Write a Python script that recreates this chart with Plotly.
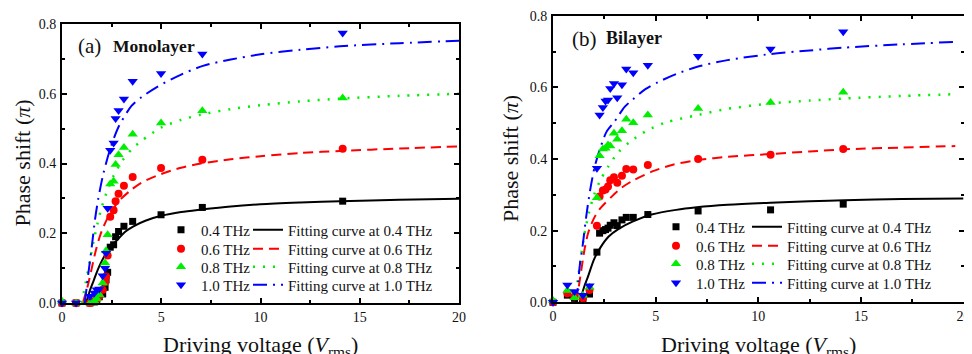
import plotly.graph_objects as go

W, H = 972, 354          # browser window
OFF = 8                  # default body margin of the page
FW, FH = W - OFF, H - OFF
FONT = "Liberation Serif, Times New Roman, serif"

# ---------------- Monolayer (a) ----------------
mono_v = [0.0, 0.71, 1.41, 1.63, 1.75, 1.88, 2.05, 2.17, 2.22, 2.30, 2.43, 2.60, 2.70, 2.85, 3.12, 3.56, 4.99, 7.07, 14.14]
mono_04 = [0.0, 0.0, 0.0, 0.003, 0.01, 0.018, 0.026, 0.045, 0.066, 0.088, 0.16, 0.167, 0.19, 0.205, 0.22, 0.234, 0.253, 0.274, 0.292]
mono_06 = [0.0, 0.0, 0.0, 0.005, 0.01, 0.02, 0.038, 0.06, 0.076, 0.136, 0.247, 0.266, 0.292, 0.313, 0.336, 0.361, 0.387, 0.411, 0.442]
mono_08 = [0.005, 0.0, 0.0, 0.005, 0.012, 0.024, 0.057, 0.115, 0.15, 0.196, 0.341, 0.349, 0.397, 0.425, 0.446, 0.484, 0.516, 0.551, 0.588]
mono_10 = [0.0, 0.0, 0.019, 0.029, 0.038, 0.04, 0.078, 0.1, 0.143, 0.272, 0.438, 0.459, 0.529, 0.552, 0.585, 0.636, 0.658, 0.714, 0.774]

fit_mono_04_v = [1.22, 1.4, 1.6, 1.8, 2.0, 2.2, 2.5, 2.8, 3.2, 3.6, 4.2, 5.0, 6.0, 7.0, 8.5, 10, 12, 14, 17, 20]
fit_mono_04 = [0.0, 0.035, 0.065, 0.095, 0.12, 0.14, 0.163, 0.182, 0.205, 0.22, 0.236, 0.25, 0.261, 0.268, 0.277, 0.283, 0.288, 0.292, 0.296, 0.299]
fit_mono_06_v = [1.05, 1.3, 1.5, 1.7, 1.9, 2.1, 2.4, 2.7, 3.0, 3.5, 4.0, 5.0, 6.0, 7.0, 8.5, 10, 12, 14, 17, 20]
fit_mono_06 = [0.0, 0.05, 0.1, 0.15, 0.19, 0.22, 0.255, 0.28, 0.3, 0.325, 0.345, 0.37, 0.388, 0.4, 0.412, 0.421, 0.43, 0.436, 0.443, 0.449]
fit_mono_08_v = [1.0, 1.2, 1.4, 1.6, 1.8, 2.0, 2.3, 2.6, 3.0, 3.5, 4.0, 5.0, 6.0, 7.0, 8.5, 10, 12, 14, 17, 20]
fit_mono_08 = [0.0, 0.06, 0.12, 0.18, 0.23, 0.275, 0.325, 0.365, 0.405, 0.44, 0.465, 0.503, 0.525, 0.54, 0.556, 0.567, 0.578, 0.586, 0.594, 0.6]
fit_mono_10_v = [1.15, 1.33, 1.5, 1.66, 1.83, 2.08, 2.42, 2.84, 3.5, 4.0, 4.8, 6.0, 7.1, 8.5, 10, 12, 14, 17, 20]
fit_mono_10 = [0.0, 0.086, 0.161, 0.238, 0.3, 0.37, 0.44, 0.504, 0.565, 0.59, 0.62, 0.655, 0.68, 0.698, 0.713, 0.726, 0.736, 0.745, 0.752]

# ---------------- Bilayer (b) ----------------
bi_v = [0.0, 0.70, 1.05, 1.46, 1.78, 2.14, 2.27, 2.43, 2.56, 2.68, 2.79, 2.97, 3.13, 3.36, 3.57, 3.91, 4.62, 7.07, 10.6, 14.14]
bi_04 = [0.0, 0.02, 0.011, 0.008, 0.023, 0.14, 0.193, 0.2, 0.203, 0.207, 0.215, 0.222, 0.214, 0.23, 0.237, 0.237, 0.245, 0.255, 0.258, 0.274]
bi_06 = [0.0, 0.025, 0.016, 0.011, 0.034, 0.214, 0.295, 0.312, 0.315, 0.323, 0.341, 0.349, 0.334, 0.353, 0.372, 0.371, 0.383, 0.4, 0.412, 0.428]
bi_08 = [0.005, 0.033, 0.013, 0.02, 0.042, 0.292, 0.409, 0.428, 0.43, 0.439, 0.436, 0.472, 0.455, 0.479, 0.511, 0.501, 0.523, 0.541, 0.558, 0.586]
bi_10 = [0.0, 0.048, 0.03, 0.02, 0.046, 0.374, 0.523, 0.544, 0.562, 0.565, 0.597, 0.611, 0.571, 0.607, 0.651, 0.641, 0.662, 0.687, 0.707, 0.755]

fit_bi_04_v = [1.3, 1.5, 1.7, 2.0, 2.3, 2.7, 3.2, 3.9, 4.8, 6.0, 7.0, 8.5, 10.6, 12.5, 14.2, 17, 20]
fit_bi_04 = [0.0, 0.04, 0.071, 0.12, 0.152, 0.183, 0.205, 0.226, 0.245, 0.258, 0.265, 0.272, 0.278, 0.282, 0.285, 0.288, 0.29]
fit_bi_06_v = [1.14, 1.3, 1.56, 1.72, 2.0, 2.3, 2.86, 3.35, 3.9, 4.87, 5.84, 7.07, 8.5, 10.6, 12.5, 14.2, 17, 19.6]
fit_bi_06 = [0.0, 0.06, 0.155, 0.195, 0.235, 0.262, 0.295, 0.32, 0.34, 0.366, 0.384, 0.397, 0.406, 0.414, 0.421, 0.427, 0.432, 0.436]
fit_bi_08_v = [1.05, 1.3, 1.5, 1.75, 2.0, 2.3, 2.7, 3.2, 3.8, 4.6, 5.5, 7.07, 8.5, 10.6, 12.5, 14.2, 17, 19.6]
fit_bi_08 = [0.0, 0.1, 0.18, 0.25, 0.3, 0.34, 0.38, 0.42, 0.45, 0.48, 0.502, 0.523, 0.54, 0.555, 0.563, 0.569, 0.576, 0.581]
fit_bi_10_v = [1.15, 1.3, 1.46, 1.62, 1.8, 2.03, 2.3, 2.6, 3.0, 3.5, 3.9, 4.5, 5.1, 6.0, 7.07, 8.5, 10.6, 12.5, 14.2, 17, 19.6]
fit_bi_10 = [0.0, 0.1, 0.165, 0.24, 0.31, 0.378, 0.43, 0.475, 0.505, 0.546, 0.567, 0.595, 0.614, 0.637, 0.658, 0.676, 0.693, 0.703, 0.711, 0.72, 0.727]

freq_labels = ["0.4 THz", "0.6 THz", "0.8 THz", "1.0 THz"]
colors = ["#000000", "#ff0000", "#00ee00", "#0000ff"]
symbols = ["square", "circle", "triangle-up", "triangle-down"]
msizes = [7, 8, 9, 9]
dashes = ["solid", "10px,6px", "2px,8px", "14px,6px,2px,6px"]
lwidths = [2, 2, 2.5, 2]


def fx(px):
    return (px - OFF) / FW


def fy(py):
    return 1 - (py - OFF) / FH


panels = [
    dict(xa="x", ya="y", v=mono_v, ys=[mono_04, mono_06, mono_08, mono_10],
         fits=[(fit_mono_04_v, fit_mono_04), (fit_mono_06_v, fit_mono_06),
               (fit_mono_08_v, fit_mono_08), (fit_mono_10_v, fit_mono_10)],
         rows=[230, 249, 267, 285], mcol=161, lcol=248),
    dict(xa="x2", ya="y2", v=bi_v, ys=[bi_04, bi_06, bi_08, bi_10],
         fits=[(fit_bi_04_v, fit_bi_04), (fit_bi_06_v, fit_bi_06),
               (fit_bi_08_v, fit_bi_08), (fit_bi_10_v, fit_bi_10)],
         rows=[227, 246, 264, 283], mcol=656, lcol=747),
]

fig = go.Figure()
legends = {}
n = 0


def new_legend(px, py):
    global n
    n += 1
    key = "legend" if n == 1 else f"legend{n}"
    legends[key] = dict(x=fx(px), y=fy(py), xanchor="left", yanchor="middle",
                        bgcolor="rgba(0,0,0,0)", borderwidth=0,
                        font=dict(family=FONT, size=15, color="#111"),
                        itemwidth=30)
    return key


for p in panels:
    for i in range(4):
        fv, fyv = p["fits"][i]
        fig.add_trace(go.Scatter(
            x=fv, y=fyv, mode="lines", xaxis=p["xa"], yaxis=p["ya"],
            line=dict(color=colors[i], width=lwidths[i], dash=dashes[i], shape="spline", smoothing=0.8),
            name="Fitting curve at " + freq_labels[i],
            legend=new_legend(p["lcol"], p["rows"][i]), hoverinfo="skip"))
    for i in range(4):
        fig.add_trace(go.Scatter(
            x=p["v"], y=p["ys"][i], mode="markers", xaxis=p["xa"], yaxis=p["ya"],
            marker=dict(color=colors[i], symbol=symbols[i], size=msizes[i], line=dict(width=0)),
            cliponaxis=False, name=freq_labels[i],
            legend=new_legend(p["mcol"], p["rows"][i])))

axis_common = dict(
    showline=True, linecolor="black", linewidth=2, mirror="ticks",
    ticks="inside", ticklen=5, tickwidth=1.5, tickcolor="black",
    showgrid=False, zeroline=False, automargin=False,
    ticklabeloverflow="allow",
    tickfont=dict(family=FONT, size=14, color="#111"),
)

xdom1 = [fx(62), fx(459)]
ydom1 = [fy(303), fy(24)]
xdom2 = [fx(553), fx(963.5)]
ydom2 = [fy(302.3), fy(15.7)]

xcfg = dict(range=[0, 20], tick0=0, dtick=5,
            minor=dict(dtick=2.5, ticks="inside", ticklen=3, tickwidth=1.5, tickcolor="black"),
            ticklabelstandoff=0, **axis_common)
ycfg = dict(range=[0, 0.8], tick0=0, dtick=0.2, tickformat=".1f",
            minor=dict(dtick=0.1, ticks="inside", ticklen=3, tickwidth=1.5, tickcolor="black"),
            ticklabelstandoff=1, **axis_common)

annotations = []


def ann(text, px, py, size, xanchor="center", yanchor="middle", angle=0):
    annotations.append(dict(text=text, x=fx(px), y=fy(py), xref="paper", yref="paper",
                            xanchor=xanchor, yanchor=yanchor, showarrow=False, textangle=angle,
                            font=dict(family=FONT, size=size, color="#111")))


ann("Phase shift (<i>π</i>)", 22, 163.5, 22, angle=-90)
ann("Phase shift (<i>π</i>)", 510, 159, 22, angle=-90)
ann("Driving voltage (<i>V</i><sub>rms</sub>)", 260.5, 346, 22)
ann("Driving voltage (<i>V</i><sub>rms</sub>)", 758, 346, 22)
ann("(a)", 76, 46, 21, xanchor="left")
ann("<b>Monolayer</b>", 111, 46.5, 17.5, xanchor="left")
ann("(b)", 570, 39, 21, xanchor="left")
ann("<b>Bilayer</b>", 604, 38.5, 18, xanchor="left")

fig.update_layout(
    width=FW, height=FH, margin=dict(l=0, r=0, t=0, b=0, pad=0, autoexpand=False),
    paper_bgcolor="white", plot_bgcolor="white",
    xaxis=dict(domain=xdom1, anchor="y", **xcfg),
    yaxis=dict(domain=ydom1, anchor="x", **ycfg),
    xaxis2=dict(domain=xdom2, anchor="y2", **xcfg),
    yaxis2=dict(domain=ydom2, anchor="x2", **ycfg),
    annotations=annotations,
    showlegend=True,
    **legends,
)

fig.write_html("out.html")
